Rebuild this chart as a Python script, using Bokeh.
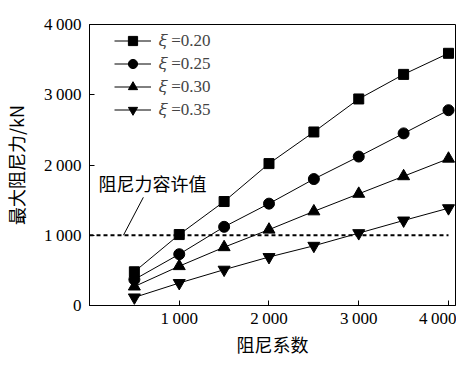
from bokeh.plotting import figure
from bokeh.models import (Range1d, FixedTicker, Legend, LegendItem, Label)
from bokeh.embed import file_html
from bokeh.resources import INLINE

# ---- data ----
damping = [500, 1000, 1500, 2000, 2500, 3000, 3500, 4000]
force_020 = [480, 1010, 1480, 2020, 2470, 2940, 3290, 3590]
force_025 = [370, 730, 1120, 1450, 1800, 2120, 2450, 2780]
force_030 = [270, 560, 830, 1080, 1340, 1590, 1840, 2090]
force_035 = [115, 320, 510, 690, 850, 1030, 1210, 1385]
series_labels = ["\U0001D709 =0.20", "\U0001D709 =0.25", "\U0001D709 =0.30", "\U0001D709 =0.35"]
allow_value = 1000
allow_label = "阻尼力容许值"
x_ticks = [1000, 2000, 3000, 4000]
y_ticks = [0, 1000, 2000, 3000, 4000]
x_tick_labels = {1000: "1\u2009000", 2000: "2\u2009000", 3000: "3\u2009000", 4000: "4\u2009000"}
y_tick_labels = {0: "0", 1000: "1\u2009000", 2000: "2\u2009000", 3000: "3\u2009000", 4000: "4\u2009000"}
x_title = "阻尼系数"
y_title = "最大阻尼力/kN"

SERIF = "Times New Roman"
CJK = "Noto Sans CJK SC"

p = figure(width=456, height=359, output_backend="svg", toolbar_location=None,
           x_range=Range1d(0, 4078), y_range=Range1d(0, 4000),
           min_border_left=88, min_border_right=1, min_border_top=24, min_border_bottom=41)
p.grid.visible = False
p.outline_line_color = "black"
p.outline_line_width = 1
p.background_fill_color = "white"
p.border_fill_color = "white"

for ax, ticks, labels in ((p.xaxis[0], x_ticks, x_tick_labels), (p.yaxis[0], y_ticks, y_tick_labels)):
    ax.ticker = FixedTicker(ticks=ticks)
    ax.major_label_overrides = labels
    ax.major_tick_in = 5
    ax.major_tick_out = 0
    ax.minor_tick_in = 0
    ax.minor_tick_out = 0
    ax.axis_line_color = "black"
    ax.major_tick_line_color = "black"
    ax.major_label_text_font = SERIF
    ax.major_label_text_font_size = "17px"
    ax.major_label_text_color = "black"
    ax.axis_label_text_font = CJK
    ax.axis_label_text_font_size = "18px"
    ax.axis_label_text_font_style = "normal"
    ax.axis_label_text_color = "black"

p.xaxis.axis_label = x_title
p.yaxis.axis_label = y_title
p.xaxis.major_label_standoff = 3
p.xaxis.axis_label_standoff = 0
p.yaxis.major_label_standoff = 8
p.yaxis.axis_label_standoff = 12

# allowable force line
p.line([0, damping[-1]], [allow_value, allow_value], line_color="black", line_width=1.8,
       line_dash="4 3")
# annotation with leader line
p.line([378, 600], [allow_value, 1540], line_color="black", line_width=1)
p.add_layout(Label(x=100, y=1740, text=allow_label, text_font=CJK, text_font_size="18px",
                   text_baseline="middle", text_color="black"))

series = [force_020, force_025, force_030, force_035]
markers = ["square", "circle", "triangle", "inverted_triangle"]
sizes = [10, 11, 12, 12]
items = []
for vals, mk, sz, lab in zip(series, markers, sizes, series_labels):
    r1 = p.line(damping, vals, line_color="black", line_width=1)
    r2 = p.scatter(damping, vals, marker=mk, size=sz, fill_color="black", line_color="black")
    items.append(LegendItem(label=lab, renderers=[r1, r2]))

legend = Legend(items=items, location=(25, 184), padding=0, margin=0, spacing=0,
                glyph_width=37, glyph_height=23, label_height=23, label_standoff=8,
                label_text_font=SERIF, label_text_font_size="17px",
                border_line_color=None, background_fill_alpha=0)
p.add_layout(legend)

open("out.html", "w").write(file_html(p, INLINE))
